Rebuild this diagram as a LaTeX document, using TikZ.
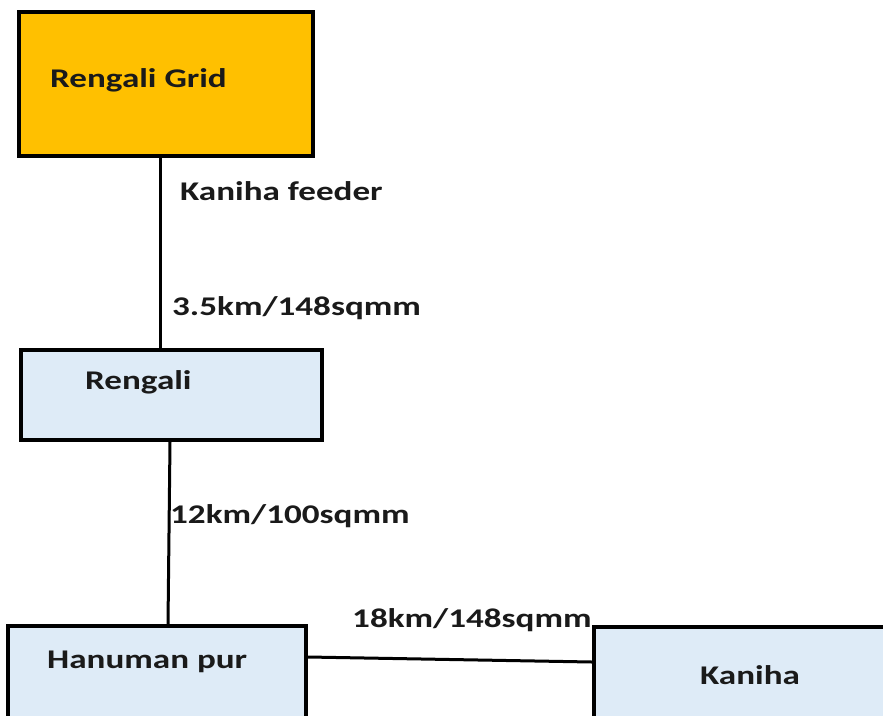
\documentclass[tikz,border=0pt]{standalone}
\usepackage{fontspec}
\newfontfamily\diagfont[FakeStretch=1.3]{Carlito}
\usetikzlibrary{positioning,calc}
\definecolor{gridgold}{HTML}{FFC000}
\definecolor{subblue}{HTML}{DEEBF7}
\definecolor{inkdark}{HTML}{1A1A1A}
\tikzset{
    every node/.style={font=\diagfont\bfseries\fontsize{27}{32}\selectfont,text=inkdark},
    station/.style={rectangle,draw=black,line width=4pt,inner sep=0pt},
    gridbox/.style={station,fill=gridgold},
    subbox/.style={station,fill=subblue},
    tag/.style={anchor=west,inner sep=0pt},
    wire/.style={draw=black,line width=3pt}
}
\begin{document}
\begin{tikzpicture}[x=1pt,y=-1pt]
\clip (0,0) rectangle (883,715);
\fill[white] (0,0) rectangle (883,715);
% stations
\node[gridbox,minimum width=294pt,minimum height=144pt] (grid) at (166,84) {};
\node[subbox,minimum width=301pt,minimum height=90pt] (rengali) at (171.5,395) {};
\node[subbox,minimum width=298pt,minimum height=134pt] (hanuman) at (157,693) {};
\node[subbox,minimum width=346pt,minimum height=133pt] (kaniha) at (767,693.5) {};
\node[tag] (gridtxt) at (50,80) {Rengali Grid};
\node[tag] (rengalitxt) at (85,382) {Rengali};
\node[tag] (hanumantxt) at (47,662) {Hanuman pur};
\node[tag] (kanihatxt) at (700,675) {Kaniha};
% lines
\draw[wire] ([xshift=-6pt]grid.south) -- ([xshift=-6pt]grid.south |- rengali.north);
\draw[wire] ([xshift=-1.5pt]rengali.south) -- ([xshift=11pt]hanuman.north);
\draw[wire] ([yshift=-33pt]hanuman.north east) -- ([yshift=-37pt]kaniha.north west);
\node[tag] (feedertxt) at (180,191) {Kaniha feeder};
\node[tag] (lenA) at (172,308) {3.5km/148sqmm};
\node[tag] (lenB) at (170,516) {12km/100sqmm};
\node[tag] (lenC) at (352,620) {18km/148sqmm};
\end{tikzpicture}
\end{document}
